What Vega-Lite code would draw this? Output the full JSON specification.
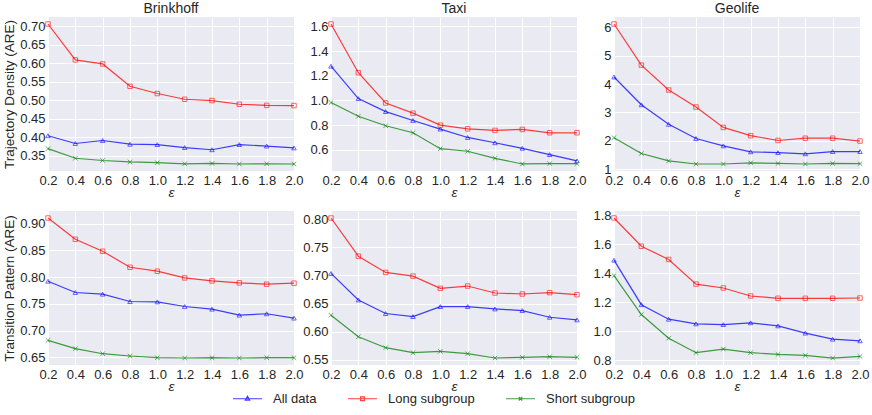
{
"$schema": "https://vega.github.io/schema/vega-lite/v6.json",
"padding": {"left": 2, "top": 2, "right": 2, "bottom": 0},
"datasets": {
"td_brinkhoff": [
{"eps":0.2,"series":"All data","value":0.404},{"eps":0.4,"series":"All data","value":0.383},{"eps":0.6,"series":"All data","value":0.391},{"eps":0.8,"series":"All data","value":0.381},{"eps":1.0,"series":"All data","value":0.380},{"eps":1.2,"series":"All data","value":0.372},{"eps":1.4,"series":"All data","value":0.366},{"eps":1.6,"series":"All data","value":0.380},{"eps":1.8,"series":"All data","value":0.376},{"eps":2.0,"series":"All data","value":0.371},
{"eps":0.2,"series":"Long subgroup","value":0.706},{"eps":0.4,"series":"Long subgroup","value":0.609},{"eps":0.6,"series":"Long subgroup","value":0.598},{"eps":0.8,"series":"Long subgroup","value":0.5375},{"eps":1.0,"series":"Long subgroup","value":0.518},{"eps":1.2,"series":"Long subgroup","value":0.5025},{"eps":1.4,"series":"Long subgroup","value":0.499},{"eps":1.6,"series":"Long subgroup","value":0.489},{"eps":1.8,"series":"Long subgroup","value":0.486},{"eps":2.0,"series":"Long subgroup","value":0.4855},
{"eps":0.2,"series":"Short subgroup","value":0.369},{"eps":0.4,"series":"Short subgroup","value":0.343},{"eps":0.6,"series":"Short subgroup","value":0.337},{"eps":0.8,"series":"Short subgroup","value":0.333},{"eps":1.0,"series":"Short subgroup","value":0.331},{"eps":1.2,"series":"Short subgroup","value":0.328},{"eps":1.4,"series":"Short subgroup","value":0.329},{"eps":1.6,"series":"Short subgroup","value":0.3275},{"eps":1.8,"series":"Short subgroup","value":0.328},{"eps":2.0,"series":"Short subgroup","value":0.3275}
],
"td_taxi": [
{"eps":0.2,"series":"All data","value":1.277},{"eps":0.4,"series":"All data","value":1.014},{"eps":0.6,"series":"All data","value":0.909},{"eps":0.8,"series":"All data","value":0.837},{"eps":1.0,"series":"All data","value":0.767},{"eps":1.2,"series":"All data","value":0.699},{"eps":1.4,"series":"All data","value":0.656},{"eps":1.6,"series":"All data","value":0.611},{"eps":1.8,"series":"All data","value":0.560},{"eps":2.0,"series":"All data","value":0.509},
{"eps":0.2,"series":"Long subgroup","value":1.619},{"eps":0.4,"series":"Long subgroup","value":1.224},{"eps":0.6,"series":"Long subgroup","value":0.979},{"eps":0.8,"series":"Long subgroup","value":0.896},{"eps":1.0,"series":"Long subgroup","value":0.799},{"eps":1.2,"series":"Long subgroup","value":0.769},{"eps":1.4,"series":"Long subgroup","value":0.756},{"eps":1.6,"series":"Long subgroup","value":0.764},{"eps":1.8,"series":"Long subgroup","value":0.737},{"eps":2.0,"series":"Long subgroup","value":0.737},
{"eps":0.2,"series":"Short subgroup","value":0.982},{"eps":0.4,"series":"Short subgroup","value":0.871},{"eps":0.6,"series":"Short subgroup","value":0.794},{"eps":0.8,"series":"Short subgroup","value":0.737},{"eps":1.0,"series":"Short subgroup","value":0.608},{"eps":1.2,"series":"Short subgroup","value":0.587},{"eps":1.4,"series":"Short subgroup","value":0.530},{"eps":1.6,"series":"Short subgroup","value":0.484},{"eps":1.8,"series":"Short subgroup","value":0.487},{"eps":2.0,"series":"Short subgroup","value":0.487}
],
"td_geolife": [
{"eps":0.2,"series":"All data","value":4.25},{"eps":0.4,"series":"All data","value":3.27},{"eps":0.6,"series":"All data","value":2.58},{"eps":0.8,"series":"All data","value":2.08},{"eps":1.0,"series":"All data","value":1.82},{"eps":1.2,"series":"All data","value":1.61},{"eps":1.4,"series":"All data","value":1.58},{"eps":1.6,"series":"All data","value":1.54},{"eps":1.8,"series":"All data","value":1.62},{"eps":2.0,"series":"All data","value":1.62},
{"eps":0.2,"series":"Long subgroup","value":6.12},{"eps":0.4,"series":"Long subgroup","value":4.67},{"eps":0.6,"series":"Long subgroup","value":3.79},{"eps":0.8,"series":"Long subgroup","value":3.19},{"eps":1.0,"series":"Long subgroup","value":2.47},{"eps":1.2,"series":"Long subgroup","value":2.18},{"eps":1.4,"series":"Long subgroup","value":2.01},{"eps":1.6,"series":"Long subgroup","value":2.09},{"eps":1.8,"series":"Long subgroup","value":2.09},{"eps":2.0,"series":"Long subgroup","value":1.99},
{"eps":0.2,"series":"Short subgroup","value":2.11},{"eps":0.4,"series":"Short subgroup","value":1.55},{"eps":0.6,"series":"Short subgroup","value":1.29},{"eps":0.8,"series":"Short subgroup","value":1.18},{"eps":1.0,"series":"Short subgroup","value":1.18},{"eps":1.2,"series":"Short subgroup","value":1.22},{"eps":1.4,"series":"Short subgroup","value":1.20},{"eps":1.6,"series":"Short subgroup","value":1.18},{"eps":1.8,"series":"Short subgroup","value":1.20},{"eps":2.0,"series":"Short subgroup","value":1.19}
],
"tp_brinkhoff": [
{"eps":0.2,"series":"All data","value":0.7924},{"eps":0.4,"series":"All data","value":0.7713},{"eps":0.6,"series":"All data","value":0.7682},{"eps":0.8,"series":"All data","value":0.7545},{"eps":1.0,"series":"All data","value":0.7538},{"eps":1.2,"series":"All data","value":0.7451},{"eps":1.4,"series":"All data","value":0.7402},{"eps":1.6,"series":"All data","value":0.729},{"eps":1.8,"series":"All data","value":0.7315},{"eps":2.0,"series":"All data","value":0.7234},
{"eps":0.2,"series":"Long subgroup","value":0.9106},{"eps":0.4,"series":"Long subgroup","value":0.8708},{"eps":0.6,"series":"Long subgroup","value":0.8484},{"eps":0.8,"series":"Long subgroup","value":0.8185},{"eps":1.0,"series":"Long subgroup","value":0.8111},{"eps":1.2,"series":"Long subgroup","value":0.7986},{"eps":1.4,"series":"Long subgroup","value":0.793},{"eps":1.6,"series":"Long subgroup","value":0.7893},{"eps":1.8,"series":"Long subgroup","value":0.7868},{"eps":2.0,"series":"Long subgroup","value":0.7887},
{"eps":0.2,"series":"Short subgroup","value":0.6817},{"eps":0.4,"series":"Short subgroup","value":0.6662},{"eps":0.6,"series":"Short subgroup","value":0.6568},{"eps":0.8,"series":"Short subgroup","value":0.6525},{"eps":1.0,"series":"Short subgroup","value":0.6494},{"eps":1.2,"series":"Short subgroup","value":0.6488},{"eps":1.4,"series":"Short subgroup","value":0.6494},{"eps":1.6,"series":"Short subgroup","value":0.6488},{"eps":1.8,"series":"Short subgroup","value":0.6494},{"eps":2.0,"series":"Short subgroup","value":0.6494}
],
"tp_taxi": [
{"eps":0.2,"series":"All data","value":0.7037},{"eps":0.4,"series":"All data","value":0.6564},{"eps":0.6,"series":"All data","value":0.6322},{"eps":0.8,"series":"All data","value":0.6268},{"eps":1.0,"series":"All data","value":0.6446},{"eps":1.2,"series":"All data","value":0.6446},{"eps":1.4,"series":"All data","value":0.6404},{"eps":1.6,"series":"All data","value":0.6375},{"eps":1.8,"series":"All data","value":0.6256},{"eps":2.0,"series":"All data","value":0.6209},
{"eps":0.2,"series":"Long subgroup","value":0.8024},{"eps":0.4,"series":"Long subgroup","value":0.7344},{"eps":0.6,"series":"Long subgroup","value":0.7054},{"eps":0.8,"series":"Long subgroup","value":0.6989},{"eps":1.0,"series":"Long subgroup","value":0.6771},{"eps":1.2,"series":"Long subgroup","value":0.6812},{"eps":1.4,"series":"Long subgroup","value":0.6688},{"eps":1.6,"series":"Long subgroup","value":0.667},{"eps":1.8,"series":"Long subgroup","value":0.6694},{"eps":2.0,"series":"Long subgroup","value":0.6658},
{"eps":0.2,"series":"Short subgroup","value":0.6292},{"eps":0.4,"series":"Short subgroup","value":0.5908},{"eps":0.6,"series":"Short subgroup","value":0.5713},{"eps":0.8,"series":"Short subgroup","value":0.5624},{"eps":1.0,"series":"Short subgroup","value":0.5648},{"eps":1.2,"series":"Short subgroup","value":0.5606},{"eps":1.4,"series":"Short subgroup","value":0.553},{"eps":1.6,"series":"Short subgroup","value":0.5541},{"eps":1.8,"series":"Short subgroup","value":0.5553},{"eps":2.0,"series":"Short subgroup","value":0.5541}
],
"tp_geolife": [
{"eps":0.2,"series":"All data","value":1.491},{"eps":0.4,"series":"All data","value":1.184},{"eps":0.6,"series":"All data","value":1.084},{"eps":0.8,"series":"All data","value":1.052},{"eps":1.0,"series":"All data","value":1.047},{"eps":1.2,"series":"All data","value":1.059},{"eps":1.4,"series":"All data","value":1.038},{"eps":1.6,"series":"All data","value":0.988},{"eps":1.8,"series":"All data","value":0.946},{"eps":2.0,"series":"All data","value":0.935},
{"eps":0.2,"series":"Long subgroup","value":1.782},{"eps":0.4,"series":"Long subgroup","value":1.587},{"eps":0.6,"series":"Long subgroup","value":1.496},{"eps":0.8,"series":"Long subgroup","value":1.326},{"eps":1.0,"series":"Long subgroup","value":1.299},{"eps":1.2,"series":"Long subgroup","value":1.244},{"eps":1.4,"series":"Long subgroup","value":1.228},{"eps":1.6,"series":"Long subgroup","value":1.228},{"eps":1.8,"series":"Long subgroup","value":1.228},{"eps":2.0,"series":"Long subgroup","value":1.230},
{"eps":0.2,"series":"Short subgroup","value":1.384},{"eps":0.4,"series":"Short subgroup","value":1.116},{"eps":0.6,"series":"Short subgroup","value":0.953},{"eps":0.8,"series":"Short subgroup","value":0.853},{"eps":1.0,"series":"Short subgroup","value":0.878},{"eps":1.2,"series":"Short subgroup","value":0.853},{"eps":1.4,"series":"Short subgroup","value":0.841},{"eps":1.6,"series":"Short subgroup","value":0.834},{"eps":1.8,"series":"Short subgroup","value":0.816},{"eps":2.0,"series":"Short subgroup","value":0.827}
]
},
"columns": 3,
"spacing": {"row": 40, "column": 37},
"bounds": "flush",
"resolve": {"scale": {"x": "independent", "y": "independent"}},
"concat": [
{
"title": "Brinkhoff",
"data": {"name": "td_brinkhoff"},
"width": 246, "height": 154,
"encoding": {
"x": {"field": "eps", "type": "quantitative", "scale": {"domain": [0.2, 2.0], "nice": false, "zero": false}, "axis": {"values": [0.2,0.4,0.6,0.8,1.0,1.2,1.4,1.6,1.8,2.0], "format": ".1f", "title": "ε"}},
"y": {"field": "value", "type": "quantitative", "scale": {"domain": [0.3086, 0.7249], "nice": false, "zero": false}, "axis": {"values": [0.35,0.40,0.45,0.50,0.55,0.60,0.65,0.70], "format": ".2f", "title": "Trajectory Density (ARE)"}},
"color": {"field": "series", "type": "nominal", "scale": {"domain": ["All data","Long subgroup","Short subgroup"], "range": ["#0000ff","#ff0000","#008000"]},
 "legend": {"title": null, "orient": "none", "direction": "horizontal", "legendX": 184, "legendY": 366, "symbolSize": 841, "symbolStrokeWidth": 1.2, "symbolOpacity": 0.75, "labelFontSize": 13, "labelColor": "#262626", "labelOffset": 10, "columnPadding": 28, "padding": 0,
  "encode": {"symbols": {"update": {"fill": {"value": "transparent"}, "shape": {"signal": "datum.value === 'All data' ? 'M-1,0H1M0,-0.17L0.15,0.1L-0.15,0.1Z' : datum.value === 'Long subgroup' ? 'M-1,0H1M-0.13,-0.13H0.13V0.13H-0.13Z' : 'M-1,0H1M-0.12,-0.12L0.12,0.12M-0.12,0.12L0.12,-0.12'"}}}}}}
},
"layer": [
{"mark": {"type": "line", "strokeWidth": 1.2, "opacity": 0.75}},
{"transform": [{"filter": "datum.series === 'All data'"}], "mark": {"type": "point", "shape": "triangle-up", "filled": false, "size": 20, "strokeWidth": 1, "opacity": 0.6}},
{"transform": [{"filter": "datum.series === 'Long subgroup'"}], "mark": {"type": "point", "shape": "square", "filled": false, "size": 20, "strokeWidth": 1, "opacity": 0.6}},
{"transform": [{"filter": "datum.series === 'Short subgroup'"}], "mark": {"type": "point", "shape": "M-1,-1L1,1M-1,1L1,-1", "filled": false, "size": 20, "strokeWidth": 1, "opacity": 0.6}}
]
},
{
"title": "Taxi",
"data": {"name": "td_taxi"},
"width": 246, "height": 154,
"encoding": {
"x": {"field": "eps", "type": "quantitative", "scale": {"domain": [0.2, 2.0], "nice": false, "zero": false}, "axis": {"values": [0.2,0.4,0.6,0.8,1.0,1.2,1.4,1.6,1.8,2.0], "format": ".1f", "title": "ε"}},
"y": {"field": "value", "type": "quantitative", "scale": {"domain": [0.427, 1.676], "nice": false, "zero": false}, "axis": {"values": [0.6,0.8,1.0,1.2,1.4,1.6], "format": ".1f", "title": null}},
"color": {"field": "series", "type": "nominal", "legend": null}
},
"layer": [
{"mark": {"type": "line", "strokeWidth": 1.2, "opacity": 0.75}},
{"transform": [{"filter": "datum.series === 'All data'"}], "mark": {"type": "point", "shape": "triangle-up", "filled": false, "size": 20, "strokeWidth": 1, "opacity": 0.6}},
{"transform": [{"filter": "datum.series === 'Long subgroup'"}], "mark": {"type": "point", "shape": "square", "filled": false, "size": 20, "strokeWidth": 1, "opacity": 0.6}},
{"transform": [{"filter": "datum.series === 'Short subgroup'"}], "mark": {"type": "point", "shape": "M-1,-1L1,1M-1,1L1,-1", "filled": false, "size": 20, "strokeWidth": 1, "opacity": 0.6}}
]
},
{
"title": "Geolife",
"data": {"name": "td_geolife"},
"width": 246, "height": 154,
"encoding": {
"x": {"field": "eps", "type": "quantitative", "scale": {"domain": [0.2, 2.0], "nice": false, "zero": false}, "axis": {"values": [0.2,0.4,0.6,0.8,1.0,1.2,1.4,1.6,1.8,2.0], "format": ".1f", "title": "ε"}},
"y": {"field": "value", "type": "quantitative", "scale": {"domain": [0.933, 6.367], "nice": false, "zero": false}, "axis": {"values": [1,2,3,4,5,6], "format": "d", "title": null}},
"color": {"field": "series", "type": "nominal", "legend": null}
},
"layer": [
{"mark": {"type": "line", "strokeWidth": 1.2, "opacity": 0.75}},
{"transform": [{"filter": "datum.series === 'All data'"}], "mark": {"type": "point", "shape": "triangle-up", "filled": false, "size": 20, "strokeWidth": 1, "opacity": 0.6}},
{"transform": [{"filter": "datum.series === 'Long subgroup'"}], "mark": {"type": "point", "shape": "square", "filled": false, "size": 20, "strokeWidth": 1, "opacity": 0.6}},
{"transform": [{"filter": "datum.series === 'Short subgroup'"}], "mark": {"type": "point", "shape": "M-1,-1L1,1M-1,1L1,-1", "filled": false, "size": 20, "strokeWidth": 1, "opacity": 0.6}}
]
},
{
"data": {"name": "tp_brinkhoff"},
"width": 246, "height": 154,
"encoding": {
"x": {"field": "eps", "type": "quantitative", "scale": {"domain": [0.2, 2.0], "nice": false, "zero": false}, "axis": {"values": [0.2,0.4,0.6,0.8,1.0,1.2,1.4,1.6,1.8,2.0], "format": ".1f", "title": "ε"}},
"y": {"field": "value", "type": "quantitative", "scale": {"domain": [0.6357, 0.9237], "nice": false, "zero": false}, "axis": {"values": [0.65,0.70,0.75,0.80,0.85,0.90], "format": ".2f", "title": "Transition Pattern (ARE)"}},
"color": {"field": "series", "type": "nominal", "legend": null}
},
"layer": [
{"mark": {"type": "line", "strokeWidth": 1.2, "opacity": 0.75}},
{"transform": [{"filter": "datum.series === 'All data'"}], "mark": {"type": "point", "shape": "triangle-up", "filled": false, "size": 20, "strokeWidth": 1, "opacity": 0.6}},
{"transform": [{"filter": "datum.series === 'Long subgroup'"}], "mark": {"type": "point", "shape": "square", "filled": false, "size": 20, "strokeWidth": 1, "opacity": 0.6}},
{"transform": [{"filter": "datum.series === 'Short subgroup'"}], "mark": {"type": "point", "shape": "M-1,-1L1,1M-1,1L1,-1", "filled": false, "size": 20, "strokeWidth": 1, "opacity": 0.6}}
]
},
{
"data": {"name": "tp_taxi"},
"width": 246, "height": 154,
"encoding": {
"x": {"field": "eps", "type": "quantitative", "scale": {"domain": [0.2, 2.0], "nice": false, "zero": false}, "axis": {"values": [0.2,0.4,0.6,0.8,1.0,1.2,1.4,1.6,1.8,2.0], "format": ".1f", "title": "ε"}},
"y": {"field": "value", "type": "quantitative", "scale": {"domain": [0.5405, 0.8149], "nice": false, "zero": false}, "axis": {"values": [0.55,0.60,0.65,0.70,0.75,0.80], "format": ".2f", "title": null}},
"color": {"field": "series", "type": "nominal", "legend": null}
},
"layer": [
{"mark": {"type": "line", "strokeWidth": 1.2, "opacity": 0.75}},
{"transform": [{"filter": "datum.series === 'All data'"}], "mark": {"type": "point", "shape": "triangle-up", "filled": false, "size": 20, "strokeWidth": 1, "opacity": 0.6}},
{"transform": [{"filter": "datum.series === 'Long subgroup'"}], "mark": {"type": "point", "shape": "square", "filled": false, "size": 20, "strokeWidth": 1, "opacity": 0.6}},
{"transform": [{"filter": "datum.series === 'Short subgroup'"}], "mark": {"type": "point", "shape": "M-1,-1L1,1M-1,1L1,-1", "filled": false, "size": 20, "strokeWidth": 1, "opacity": 0.6}}
]
},
{
"data": {"name": "tp_geolife"},
"width": 246, "height": 154,
"encoding": {
"x": {"field": "eps", "type": "quantitative", "scale": {"domain": [0.2, 2.0], "nice": false, "zero": false}, "axis": {"values": [0.2,0.4,0.6,0.8,1.0,1.2,1.4,1.6,1.8,2.0], "format": ".1f", "title": "ε"}},
"y": {"field": "value", "type": "quantitative", "scale": {"domain": [0.768, 1.830], "nice": false, "zero": false}, "axis": {"values": [0.8,1.0,1.2,1.4,1.6,1.8], "format": ".1f", "title": null}},
"color": {"field": "series", "type": "nominal", "legend": null}
},
"layer": [
{"mark": {"type": "line", "strokeWidth": 1.2, "opacity": 0.75}},
{"transform": [{"filter": "datum.series === 'All data'"}], "mark": {"type": "point", "shape": "triangle-up", "filled": false, "size": 20, "strokeWidth": 1, "opacity": 0.6}},
{"transform": [{"filter": "datum.series === 'Long subgroup'"}], "mark": {"type": "point", "shape": "square", "filled": false, "size": 20, "strokeWidth": 1, "opacity": 0.6}},
{"transform": [{"filter": "datum.series === 'Short subgroup'"}], "mark": {"type": "point", "shape": "M-1,-1L1,1M-1,1L1,-1", "filled": false, "size": 20, "strokeWidth": 1, "opacity": 0.6}}
]
}
],
"config": {
"font": "Liberation Sans",
"view": {"fill": "#EAEAF2", "stroke": null},
"axis": {"grid": true, "gridColor": "#ffffff", "gridWidth": 1, "gridOpacity": 1, "domain": false, "ticks": false, "labelFontSize": 13, "labelColor": "#262626", "titleFontSize": 13.5, "titleFontWeight": "normal", "titleColor": "#262626"},
"axisX": {"labelPadding": 3, "titlePadding": -2, "titleFontStyle": "italic", "labelFlush": false},
"axisY": {"labelPadding": 3, "titlePadding": 3},
"title": {"fontSize": 14, "fontWeight": "normal", "color": "#262626", "offset": 1}
}
}
